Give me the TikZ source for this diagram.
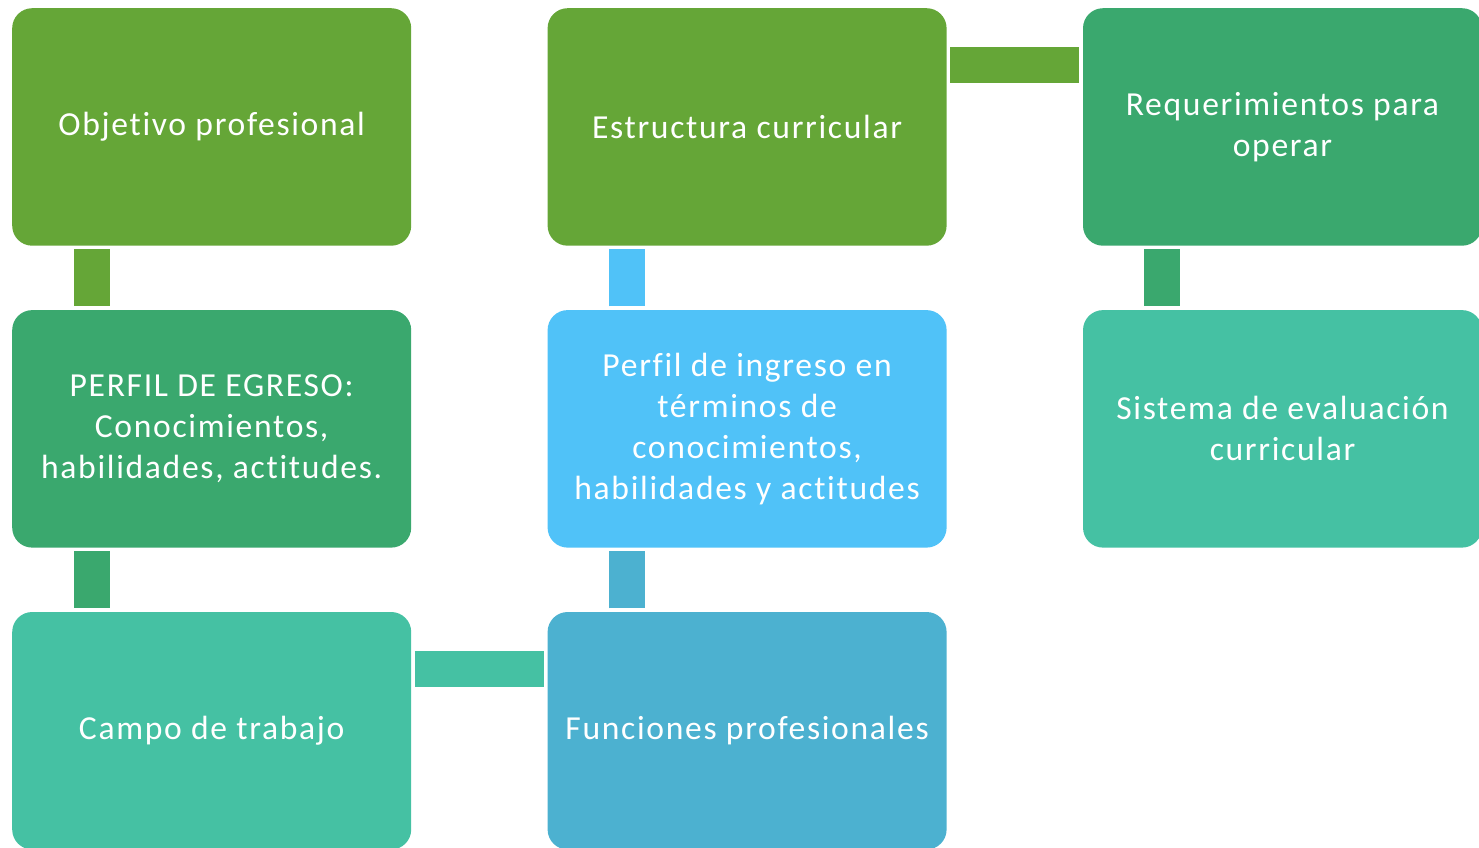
\documentclass[tikz,border=0pt]{standalone}
\usepackage{fontspec}
\setmainfont[LetterSpace=5,Ligatures=NoCommon]{Carlito}
\usetikzlibrary{positioning}

\definecolor{verdeA}{RGB}{101,166,55}
\definecolor{verdeB}{RGB}{58,168,110}
\definecolor{verdeC}{RGB}{69,193,163}
\definecolor{azulA}{RGB}{80,194,248}
\definecolor{azulB}{RGB}{76,177,208}

\begin{document}
\begin{tikzpicture}[x=1pt,y=1pt,node distance=64pt and 136pt,
  box/.style={rectangle,rounded corners=20pt,minimum width=399pt,minimum height=237.5pt,
    inner sep=0pt,align=center,text=white,font=\fontsize{33.6}{41}\selectfont},
  link/.style={line width=36pt}]
\useasboundingbox (0,0) rectangle (1479,-847);
\node[box,fill=verdeA,anchor=north west] (obj) at (12,-8) {Objetivo profesional};
\node[box,fill=verdeB] (egreso)     [below=of obj]       {PERFIL DE EGRESO:\\Conocimientos,\\habilidades, actitudes.};
\node[box,fill=verdeC] (campo)      [below=of egreso]    {Campo de trabajo};
\node[box,fill=azulB]  (funciones)  [right=of campo]     {Funciones profesionales};
\node[box,fill=azulA]  (ingreso)    [above=of funciones] {Perfil de ingreso en\\términos de\\conocimientos,\\habilidades y actitudes};
\node[box,fill=verdeA] (estructura) [above=of ingreso]   {Estructura curricular};
\node[box,fill=verdeB] (req)        [right=of estructura] {Requerimientos para\\operar};
\node[box,fill=verdeC] (sistema)    [below=of req]       {Sistema de evaluación\\curricular};

\draw[link,verdeA] ([xshift=79.5pt,yshift=-3.5pt]obj.south west) -- ([xshift=79.5pt,yshift=3.5pt]egreso.north west);
\draw[link,verdeB] ([xshift=79.5pt,yshift=-3.5pt]egreso.south west) -- ([xshift=79.5pt,yshift=3.5pt]campo.north west);
\draw[link,verdeC] ([xshift=3.5pt,yshift=-57pt]campo.north east) -- ([xshift=-3.5pt,yshift=-57pt]funciones.north west);
\draw[link,azulB] ([xshift=79.5pt,yshift=3.5pt]funciones.north west) -- ([xshift=79.5pt,yshift=-3.5pt]ingreso.south west);
\draw[link,azulA] ([xshift=79.5pt,yshift=3.5pt]ingreso.north west) -- ([xshift=79.5pt,yshift=-3.5pt]estructura.south west);
\draw[link,verdeA] ([xshift=3.5pt,yshift=-57pt]estructura.north east) -- ([xshift=-3.5pt,yshift=-57pt]req.north west);
\draw[link,verdeB] ([xshift=79.5pt,yshift=-3.5pt]req.south west) -- ([xshift=79.5pt,yshift=3.5pt]sistema.north west);
\end{tikzpicture}
\end{document}
